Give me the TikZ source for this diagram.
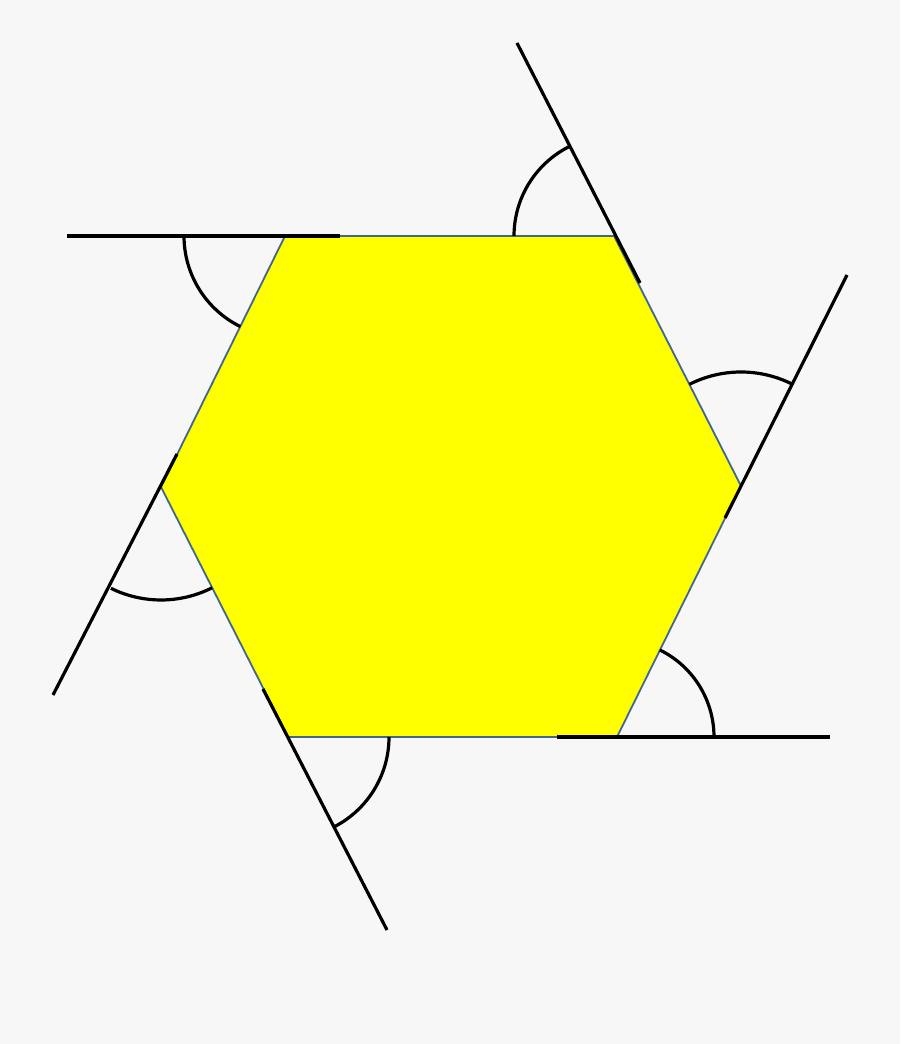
\documentclass[tikz,border=0pt]{standalone}
\definecolor{bgcol}{HTML}{F7F7F7}
\definecolor{hexblue}{HTML}{41668F}
\definecolor{hexyellow}{RGB}{255,255,0}
\begin{document}
\begin{tikzpicture}[x=1pt,y=1pt,
  hexagon/.style={fill=hexyellow,draw=hexblue,line width=1.8pt,line join=miter},
  extline/.style={draw=black,line width=3.2pt},
  anglearc/.style={draw=black,line width=3.2pt}]
\fill[bgcol] (0,0) rectangle (900,1044);
\useasboundingbox (0,0) rectangle (900,1044);
% hexagon vertices
\coordinate (TL) at (285,808);
\coordinate (TR) at (614,808);
\coordinate (R)  at (741,558);
\coordinate (BR) at (617,307);
\coordinate (BL) at (288,307);
\coordinate (L)  at (161,557);
% line ends
\coordinate (a1) at (67,808);  \coordinate (b1) at (340,808);
\coordinate (a2) at (177,590); \coordinate (b2) at (53,349);
\coordinate (a3) at (263,355); \coordinate (b3) at (387,114);
\coordinate (a4) at (557,307); \coordinate (b4) at (830,307);
\coordinate (a5) at (725,526); \coordinate (b5) at (847,769);
\coordinate (a6) at (640,761); \coordinate (b6) at (517,1001);
\path[hexagon] (TL) -- (TR) -- (R) -- (BR) -- (BL) -- (L) -- cycle;
\draw[extline] (a1) -- (b1);
\draw[extline] (a2) -- (b2);
\draw[extline] (a3) -- (b3);
\draw[extline] (a4) -- (b4);
\draw[extline] (a5) -- (b5);
\draw[extline] (a6) -- (b6);
% exterior angle arcs
\draw[anglearc] ([shift={(180:101)}]TL) arc[start angle=180,end angle=243.7,radius=101];
\draw[anglearc] ([shift={(243.7:113)}]L) arc[start angle=243.7,end angle=296.9,radius=113];
\draw[anglearc] ([shift={(296.9:101)}]BL) arc[start angle=296.9,end angle=360,radius=101];
\draw[anglearc] ([shift={(0:97)}]BR) arc[start angle=0,end angle=63.7,radius=97];
\draw[anglearc] ([shift={(63.7:114)}]R) arc[start angle=63.7,end angle=116.9,radius=114];
\draw[anglearc] ([shift={(116.9:100)}]TR) arc[start angle=116.9,end angle=180,radius=100];
\end{tikzpicture}
\end{document}
